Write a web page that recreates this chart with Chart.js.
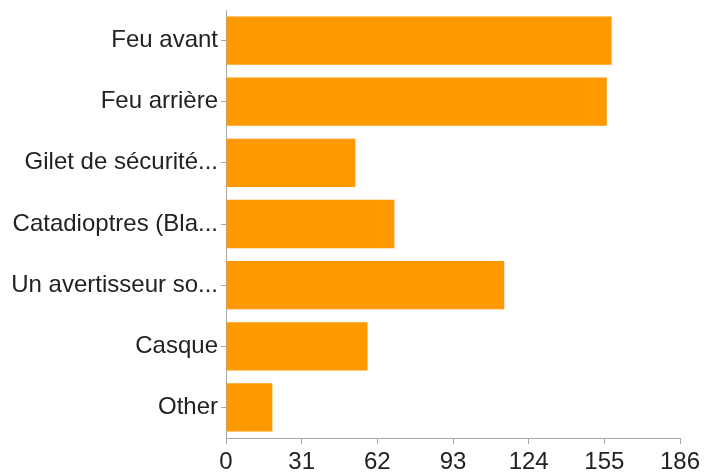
<!DOCTYPE html>
<html>
<head>
<meta charset="utf-8">
<script src="https://cdn.jsdelivr.net/npm/chart.js@4.4.0/dist/chart.umd.min.js"></script>
<style>
  html, body { margin: 0; padding: 0; background: #fff; }
  #wrap { width: 715px; height: 472px; }
</style>
</head>
<body>
<div id="wrap"><canvas id="chart"></canvas></div>
<script>
// Answers and counts
const categories = ['Feu avant', 'Feu arrière', 'Gilet de sécurité...', 'Catadioptres (Bla...', 'Un avertisseur so...', 'Casque', 'Other'];
const counts = [158, 156, 53, 69, 114, 58, 19];
const xTicks = [0, 31, 62, 93, 124, 155, 186];

const axisGray = '#a8a8a8';
const textColor = '#222222';
const font = { family: '"Liberation Sans", Arial, sans-serif', size: 24, lineHeight: 1 };

const ctx = document.getElementById('chart').getContext('2d');
new Chart(ctx, {
    type: 'bar',
    data: {
        labels: categories,
        datasets: [{
            data: counts,
            backgroundColor: '#ff9900',
            borderWidth: 0,
            categoryPercentage: 1,
            barPercentage: 0.79
        }]
    },
    options: {
        indexAxis: 'y',
        responsive: true,
        maintainAspectRatio: false,
        animation: false,
        layout: { padding: { top: 10, right: 35, left: 0, bottom: 0 } },
        plugins: {
            legend: { display: false },
            tooltip: { enabled: false }
        },
        scales: {
            x: {
                min: 0,
                max: 186,
                afterBuildTicks: axis => { axis.ticks = xTicks.map(v => ({ value: v })); },
                afterFit: axis => { axis.height = 34; },
                grid: { drawOnChartArea: false, color: axisGray, tickLength: 6 },
                border: { color: axisGray, width: 1 },
                ticks: { color: textColor, font: font, padding: 6, autoSkip: false, maxRotation: 0 }
            },
            y: {
                afterFit: axis => {
                    axis.width = 226;
                    // labels sit in the middle of each band, no overflow room needed
                    axis.paddingTop = 0;
                    axis.paddingBottom = 0;
                },
                grid: { drawOnChartArea: false, color: axisGray, tickLength: 5, offset: false },
                border: { color: axisGray, width: 1 },
                ticks: { color: textColor, font: font, padding: 3, autoSkip: false }
            }
        }
    }
});
</script>
</body>
</html>
